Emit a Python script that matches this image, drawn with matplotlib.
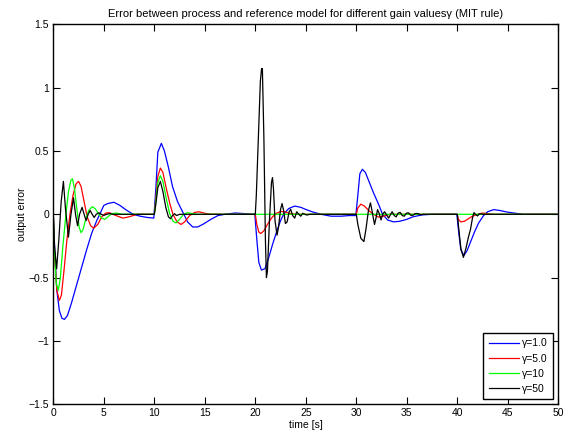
import matplotlib
matplotlib.use("Agg")
import matplotlib.pyplot as plt

plt.rcParams['font.family'] = ['Liberation Sans', 'DejaVu Sans']

# gamma = 1.0 (blue)
t_g1 = [0, 0.15, 0.35, 0.6, 0.85, 1.1, 1.4, 1.8, 2.3, 2.8, 3.3, 3.8, 4.3, 4.6, 5.0, 5.4, 6.0, 6.6, 7.2, 7.9, 8.6, 9.3, 9.95,
        10.15, 10.35, 10.7, 11.0, 11.4, 11.8, 12.3, 12.8, 13.3, 13.8, 14.3, 14.9, 15.6, 16.3, 17.0, 18.0, 19.0, 19.95,
        20.15, 20.35, 20.6, 20.95, 21.3, 21.7, 22.1, 22.5, 22.8, 23.3, 23.9, 24.5, 25.1, 25.7, 26.5, 27.5, 28.5, 29.3, 29.95,
        30.15, 30.35, 30.6, 30.9, 31.3, 31.7, 32.2, 32.6, 33.1, 33.7, 34.3, 35.0, 35.6, 36.5, 37.5, 39.95,
        40.15, 40.35, 40.65, 40.95, 41.3, 41.7, 42.1, 42.6, 43.0, 43.6, 44.2, 44.9, 45.6, 46.5, 50]
e_g1 = [0, -0.3, -0.6, -0.76, -0.82, -0.83, -0.8, -0.7, -0.56, -0.42, -0.28, -0.15, -0.05, 0.0, 0.07, 0.085, 0.095, 0.07, 0.035, 0.0, -0.015, -0.025, -0.03,
        0.2, 0.49, 0.56, 0.5, 0.37, 0.22, 0.1, 0.02, -0.06, -0.1, -0.1, -0.075, -0.04, -0.01, 0.0, 0.01, 0.005, 0.0,
        -0.2, -0.38, -0.44, -0.43, -0.35, -0.24, -0.14, -0.05, 0.0, 0.045, 0.065, 0.055, 0.035, 0.018, 0.0, -0.015, -0.015, -0.01, -0.01,
        0.15, 0.32, 0.355, 0.33, 0.25, 0.17, 0.08, 0.0, -0.045, -0.06, -0.055, -0.04, -0.02, -0.005, 0.0, 0.0,
        -0.15, -0.28, -0.325, -0.29, -0.22, -0.14, -0.07, -0.01, 0.02, 0.037, 0.03, 0.018, 0.01, 0.0, 0.0]

# gamma = 5.0 (red)
t_g5 = [0, 0.15, 0.35, 0.6, 0.8, 1.05, 1.35, 1.65, 1.95, 2.25, 2.5, 2.75, 3.05, 3.35, 3.7, 4.0, 4.4, 4.8, 5.2, 5.6, 6.2, 6.9, 7.5, 8.3, 10.0,
        10.15, 10.35, 10.6, 10.85, 11.2, 11.55, 11.85, 12.25, 12.65, 13.0, 13.5, 14.0, 14.4, 14.9, 15.5, 20.0,
        20.15, 20.35, 20.55, 20.85, 21.2, 21.6, 22.0, 22.5, 22.9, 23.4, 24.0, 30.0,
        30.15, 30.45, 30.8, 31.3, 31.7, 32.2, 32.7, 33.3, 40.0,
        40.1, 40.35, 40.7, 41.1, 41.5, 42.0, 42.5, 43.0, 43.5, 50]
e_g5 = [0, -0.35, -0.6, -0.68, -0.64, -0.45, -0.2, 0.0, 0.15, 0.24, 0.26, 0.22, 0.1, -0.02, -0.09, -0.11, -0.08, -0.02, 0.01, 0.012, -0.01, -0.03, -0.02, 0.0, 0.0,
        0.12, 0.3, 0.365, 0.33, 0.2, 0.08, 0.0, -0.06, -0.08, -0.06, -0.01, 0.015, 0.02, 0.01, 0.0, 0.0,
        -0.08, -0.14, -0.152, -0.13, -0.08, -0.03, 0.005, 0.022, 0.02, 0.008, 0.0, 0.0,
        0.05, 0.08, 0.065, 0.025, 0.0, -0.022, -0.015, 0.0, 0.0,
        -0.04, -0.06, -0.055, -0.035, -0.015, 0.0, 0.01, 0.005, 0.0, 0.0]

# gamma = 10 (green)
t_g10 = [0, 0.12, 0.3, 0.5, 0.7, 0.95, 1.25, 1.5, 1.75, 1.9, 2.1, 2.35, 2.55, 2.75, 2.95, 3.2, 3.5, 3.85, 4.15, 4.5, 4.8, 5.1, 5.4, 5.8, 6.2, 6.8, 10.0,
         10.15, 10.35, 10.6, 10.85, 11.2, 11.5, 11.85, 12.15, 12.5, 12.9, 13.3, 13.8, 14.3, 50]
e_g10 = [0, -0.3, -0.55, -0.6, -0.5, -0.25, 0.0, 0.18, 0.27, 0.28, 0.2, 0.03, -0.1, -0.145, -0.12, -0.04, 0.03, 0.06, 0.045, 0.0, -0.03, -0.04, -0.02, 0.005, 0.01, 0.0, 0.0,
         0.1, 0.25, 0.305, 0.26, 0.12, 0.01, -0.055, -0.068, -0.04, 0.0, 0.013, 0.005, 0.0, 0.0]

# gamma = 50 (black)
t_g50 = [0, 0.12, 0.33, 0.55, 0.78, 1.0, 1.2, 1.5, 1.75, 2.0, 2.2, 2.4, 2.6, 2.85, 3.05, 3.25, 3.45, 3.65, 3.85, 4.05, 4.25, 4.5, 4.75, 5.0, 5.5, 6.0, 10.0,
         10.15, 10.35, 10.6, 10.85, 11.15, 11.4, 11.6, 11.8, 12.0, 12.2, 12.5, 20.0,
         20.1, 20.3, 20.5, 20.62, 20.7, 20.85, 21.0, 21.1, 21.2, 21.4, 21.6, 21.7, 21.8, 21.95, 22.15, 22.3, 22.5, 22.65, 22.8, 22.98,
         23.15, 23.35, 23.5, 23.7, 23.9, 24.1, 24.3, 24.5, 24.7, 24.9, 25.1, 25.4, 30.0,
         30.15, 30.45, 30.75, 30.95, 31.2, 31.4, 31.55, 31.8, 31.95, 32.1, 32.25, 32.45, 32.6, 32.8, 33.0, 33.2, 33.4, 33.55, 33.75,
         33.95, 34.15, 34.35, 34.55, 34.75, 34.95, 35.15, 35.4, 35.6, 35.85, 36.1, 36.35, 36.6, 40.0,
         40.15, 40.35, 40.6, 40.85, 41.1, 41.3, 41.5, 41.65, 41.8, 42.0, 42.2, 42.5, 50]
e_g50 = [0, -0.25, -0.43, -0.2, 0.1, 0.26, 0.05, -0.18, 0.0, 0.13, 0.0, -0.09, 0.0, 0.055, 0.0, -0.05, 0.0, 0.03, 0.0, -0.025, 0.0, 0.012, 0.0, -0.008, 0.005, 0.0, 0.0,
         0.08, 0.21, 0.26, 0.18, 0.05, -0.02, -0.035, -0.01, 0.005, -0.01, 0.0, 0.0,
         0.15, 0.6, 1.05, 1.15, 1.15, 0.6, -0.2, -0.5, -0.45, -0.05, 0.25, 0.29, 0.2, -0.05, -0.165, -0.1, 0.04, 0.085, 0.03, -0.073,
         -0.06, 0.02, 0.04, -0.01, -0.03, 0.02, 0.0, -0.015, 0.008, 0.0, -0.006, 0.0, 0.0,
         -0.08, -0.19, -0.215, -0.12, 0.03, 0.09, 0.03, -0.08, -0.03, 0.037, 0.01, -0.045, 0.0, 0.02, -0.005, -0.03, 0.0, 0.02, -0.01,
         -0.02, 0.01, 0.015, -0.01, -0.015, 0.008, 0.012, -0.008, -0.008, 0.006, 0.006, -0.004, 0.0, 0.0,
         -0.12, -0.27, -0.34, -0.27, -0.18, -0.12, -0.03, 0.013, 0.0, -0.013, 0.005, 0.0, 0.0]

labels = ['\u03b3=1.0', '\u03b3=5.0', '\u03b3=10', '\u03b3=50']
x_ticks = list(range(0, 51, 5))
y_ticks = [-1.5, -1, -0.5, 0, 0.5, 1, 1.5]
y_ticklabels = ['\u22121.5', '\u22121', '\u22120.5', '0', '0.5', '1', '1.5']


def main():
    fig = plt.figure(figsize=(5.67, 4.36), dpi=100)
    ax = fig.add_axes([0.094, 0.0727, 0.8907, 0.8716])

    ax.plot(t_g1, e_g1, color='#0000ff', lw=0.9, label=labels[0])
    ax.plot(t_g5, e_g5, color='#ff0000', lw=0.9, label=labels[1])
    ax.plot(t_g10, e_g10, color='#00ff00', lw=0.9, label=labels[2])
    ax.plot(t_g50, e_g50, color='black', lw=0.9, label=labels[3])

    ax.set_xlim(0, 50)
    ax.set_ylim(-1.5, 1.5)
    ax.set_xticks(x_ticks)
    ax.set_yticks(y_ticks)
    ax.set_yticklabels(y_ticklabels)
    ax.tick_params(direction='in', top=True, right=True, length=5, width=0.8, labelsize=7.5, pad=3)
    for s in ax.spines.values():
        s.set_linewidth(1.0)

    ax.set_xlabel('time [s]', fontsize=7.5, labelpad=1)
    ax.set_ylabel('output error', fontsize=7.5, labelpad=1)
    ax.set_title('Error between process and reference model for different gain values\u03b3 (MIT rule)',
                 fontsize=8, pad=5)

    leg = ax.legend(loc='lower right', fontsize=7.5, fancybox=False, edgecolor='black',
                    framealpha=1, handlelength=2.9, borderaxespad=0.48, labelspacing=0.5,
                    handletextpad=0.35, borderpad=0.5)
    leg.get_frame().set_linewidth(1.0)

    fig.savefig('out.png', dpi=100)
    plt.close(fig)


if __name__ == '__main__':
    main()
